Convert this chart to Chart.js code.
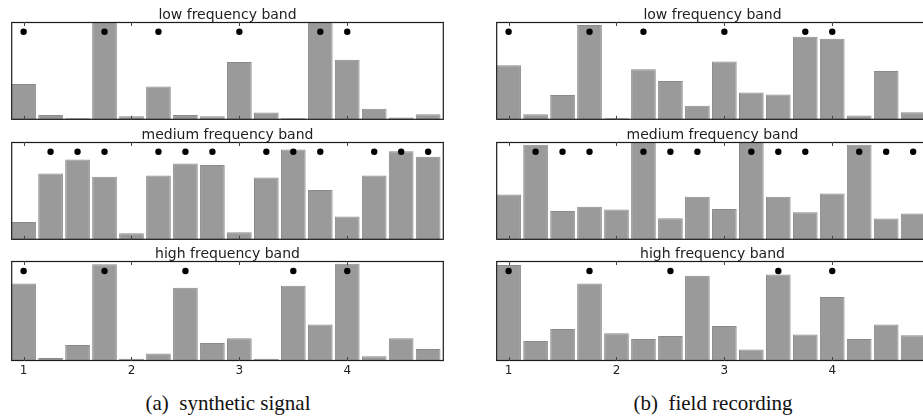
<!DOCTYPE html>
<html>
<head>
<meta charset="utf-8">
<script src="https://cdn.jsdelivr.net/npm/chart.js@4"></script>
<style>
  html, body { margin:0; padding:0; background:#fff; width:923px; height:419px; overflow:hidden; }
  #wrap { position:relative; width:923px; height:419px; overflow:hidden; }
  canvas { position:absolute; }
  .cap { position:absolute; top:393px; width:440px; text-align:center; font-family:"Liberation Serif","Times New Roman",serif; font-size:21px; line-height:21px; color:#111; white-space:nowrap; }
</style>
</head>
<body>
<div id="wrap">
  <canvas id="c0" width="439" height="119" style="left:8px;top:4px"></canvas>
  <canvas id="c1" width="439" height="119" style="left:8px;top:124px"></canvas>
  <canvas id="c2" width="439" height="140" style="left:8px;top:243px"></canvas>
  <canvas id="c3" width="439" height="119" style="left:493px;top:4px"></canvas>
  <canvas id="c4" width="439" height="119" style="left:493px;top:124px"></canvas>
  <canvas id="c5" width="439" height="140" style="left:493px;top:243px"></canvas>
  <div class="cap" style="left:8px">(a)&ensp;synthetic signal</div>
  <div class="cap" style="left:493px">(b)&ensp;field recording</div>
</div>
<script>
// ---- data ----
const positions = [1, 1.25, 1.5, 1.75, 2, 2.25, 2.5, 2.75, 3, 3.25, 3.5, 3.75, 4, 4.25, 4.5, 4.75];
const tickValues = [1, 2, 3, 4];
const tickLabels = ['1', '2', '3', '4'];
const bandTitles = ['low frequency band', 'medium frequency band', 'high frequency band'];

const synthLow  = [0.365, 0.05, 0.017, 1.0, 0.037, 0.34, 0.05, 0.037, 0.59, 0.074, 0.017, 1.0, 0.615, 0.114, 0.023, 0.057];
const synthMed  = [0.181, 0.678, 0.822, 0.644, 0.067, 0.658, 0.779, 0.765, 0.077, 0.638, 0.923, 0.51, 0.238, 0.658, 0.906, 0.849];
const synthHigh = [0.776, 0.03, 0.16, 0.967, 0.023, 0.074, 0.732, 0.18, 0.227, 0.023, 0.753, 0.365, 0.973, 0.047, 0.227, 0.12];

const fieldLow  = [0.559, 0.057, 0.254, 0.97, 0.017, 0.518, 0.398, 0.144, 0.595, 0.278, 0.258, 0.849, 0.829, 0.043, 0.498, 0.077];
const fieldMed  = [0.463, 0.973, 0.295, 0.339, 0.309, 1.0, 0.221, 0.44, 0.315, 1.0, 0.44, 0.282, 0.473, 0.973, 0.218, 0.268];
const fieldHigh = [0.96, 0.2, 0.321, 0.776, 0.278, 0.221, 0.251, 0.853, 0.351, 0.114, 0.866, 0.264, 0.639, 0.221, 0.365, 0.258];

const markersLow  = [1, 1.75, 2.25, 3, 3.75, 4];
const markersMed  = [1.25, 1.5, 1.75, 2.25, 2.5, 2.75, 3.25, 3.5, 3.75, 4.25, 4.5, 4.75];
const markersHigh = [1, 1.75, 2.5, 3.5, 4];
const markerLevel = 0.9;

const xMin = 0.885, xMax = 4.895;

// ---- drawing ----
const framePlugin = {
  id: 'frame',
  afterDatasetsDraw(chart) {
    const { ctx, chartArea: a, scales: { x } } = chart;
    ctx.save();
    ctx.strokeStyle = '#1a1a1a';
    ctx.lineWidth = 1.2;
    ctx.strokeRect(a.left + 0.5, a.top + 0.5, a.right - a.left - 1, a.bottom - a.top - 1);
    ctx.strokeStyle = '#444';
    ctx.lineWidth = 1;
    ctx.beginPath();
    tickValues.forEach(v => {
      const px = Math.round(x.getPixelForValue(v)) + 0.5;
      ctx.moveTo(px, a.bottom); ctx.lineTo(px, a.bottom - 4);
      ctx.moveTo(px, a.top); ctx.lineTo(px, a.top + 4);
    });
    ctx.stroke();
    ctx.restore();
  }
};

function makeChart(id, title, values, markers, showTicks) {
  new Chart(document.getElementById(id), {
    type: 'bar',
    data: {
      datasets: [
        {
          type: 'scatter',
          data: markers.map(m => ({ x: m, y: markerLevel })),
          pointRadius: 3.2,
          pointHoverRadius: 3.2,
          backgroundColor: '#000',
          borderColor: '#000',
          borderWidth: 0,
          order: 0
        },
        {
          type: 'bar',
          data: positions.map((p, i) => ({ x: p, y: values[i] })),
          backgroundColor: '#9a9a9a',
          borderColor: '#8a8a8a',
          borderWidth: 1,
          barPercentage: 0.915,
          categoryPercentage: 1.0,
          order: 1
        }
      ]
    },
    options: {
      responsive: false,
      animation: false,
      events: [],
      layout: { padding: { top: 0, left: 1, right: 1, bottom: showTicks ? 1.6 : 1 } },
      plugins: {
        legend: { display: false },
        tooltip: { enabled: false },
        title: {
          display: true,
          text: title,
          color: '#222',
          font: { family: 'DejaVu Sans', size: 14, weight: 'normal', lineHeight: '14px' },
          padding: { top: 4, bottom: 0 }
        }
      },
      scales: {
        x: {
          type: 'linear',
          min: xMin,
          max: xMax,
          display: showTicks,
          offset: false,
          grid: { display: false, drawTicks: false },
          border: { display: false },
          afterBuildTicks: s => { s.ticks = tickValues.map(v => ({ value: v })); },
          ticks: {
            color: '#222',
            padding: 3,
            maxRotation: 0,
            font: { family: 'DejaVu Sans', size: 12 },
            callback: (v) => tickLabels[tickValues.indexOf(v)]
          }
        },
        y: {
          display: false,
          min: 0,
          max: 1
        }
      }
    },
    plugins: [framePlugin]
  });
}

makeChart('c0', bandTitles[0], synthLow, markersLow, false);
makeChart('c1', bandTitles[1], synthMed, markersMed, false);
makeChart('c2', bandTitles[2], synthHigh, markersHigh, true);
makeChart('c3', bandTitles[0], fieldLow, markersLow, false);
makeChart('c4', bandTitles[1], fieldMed, markersMed, false);
makeChart('c5', bandTitles[2], fieldHigh, markersHigh, true);
</script>
</body>
</html>
